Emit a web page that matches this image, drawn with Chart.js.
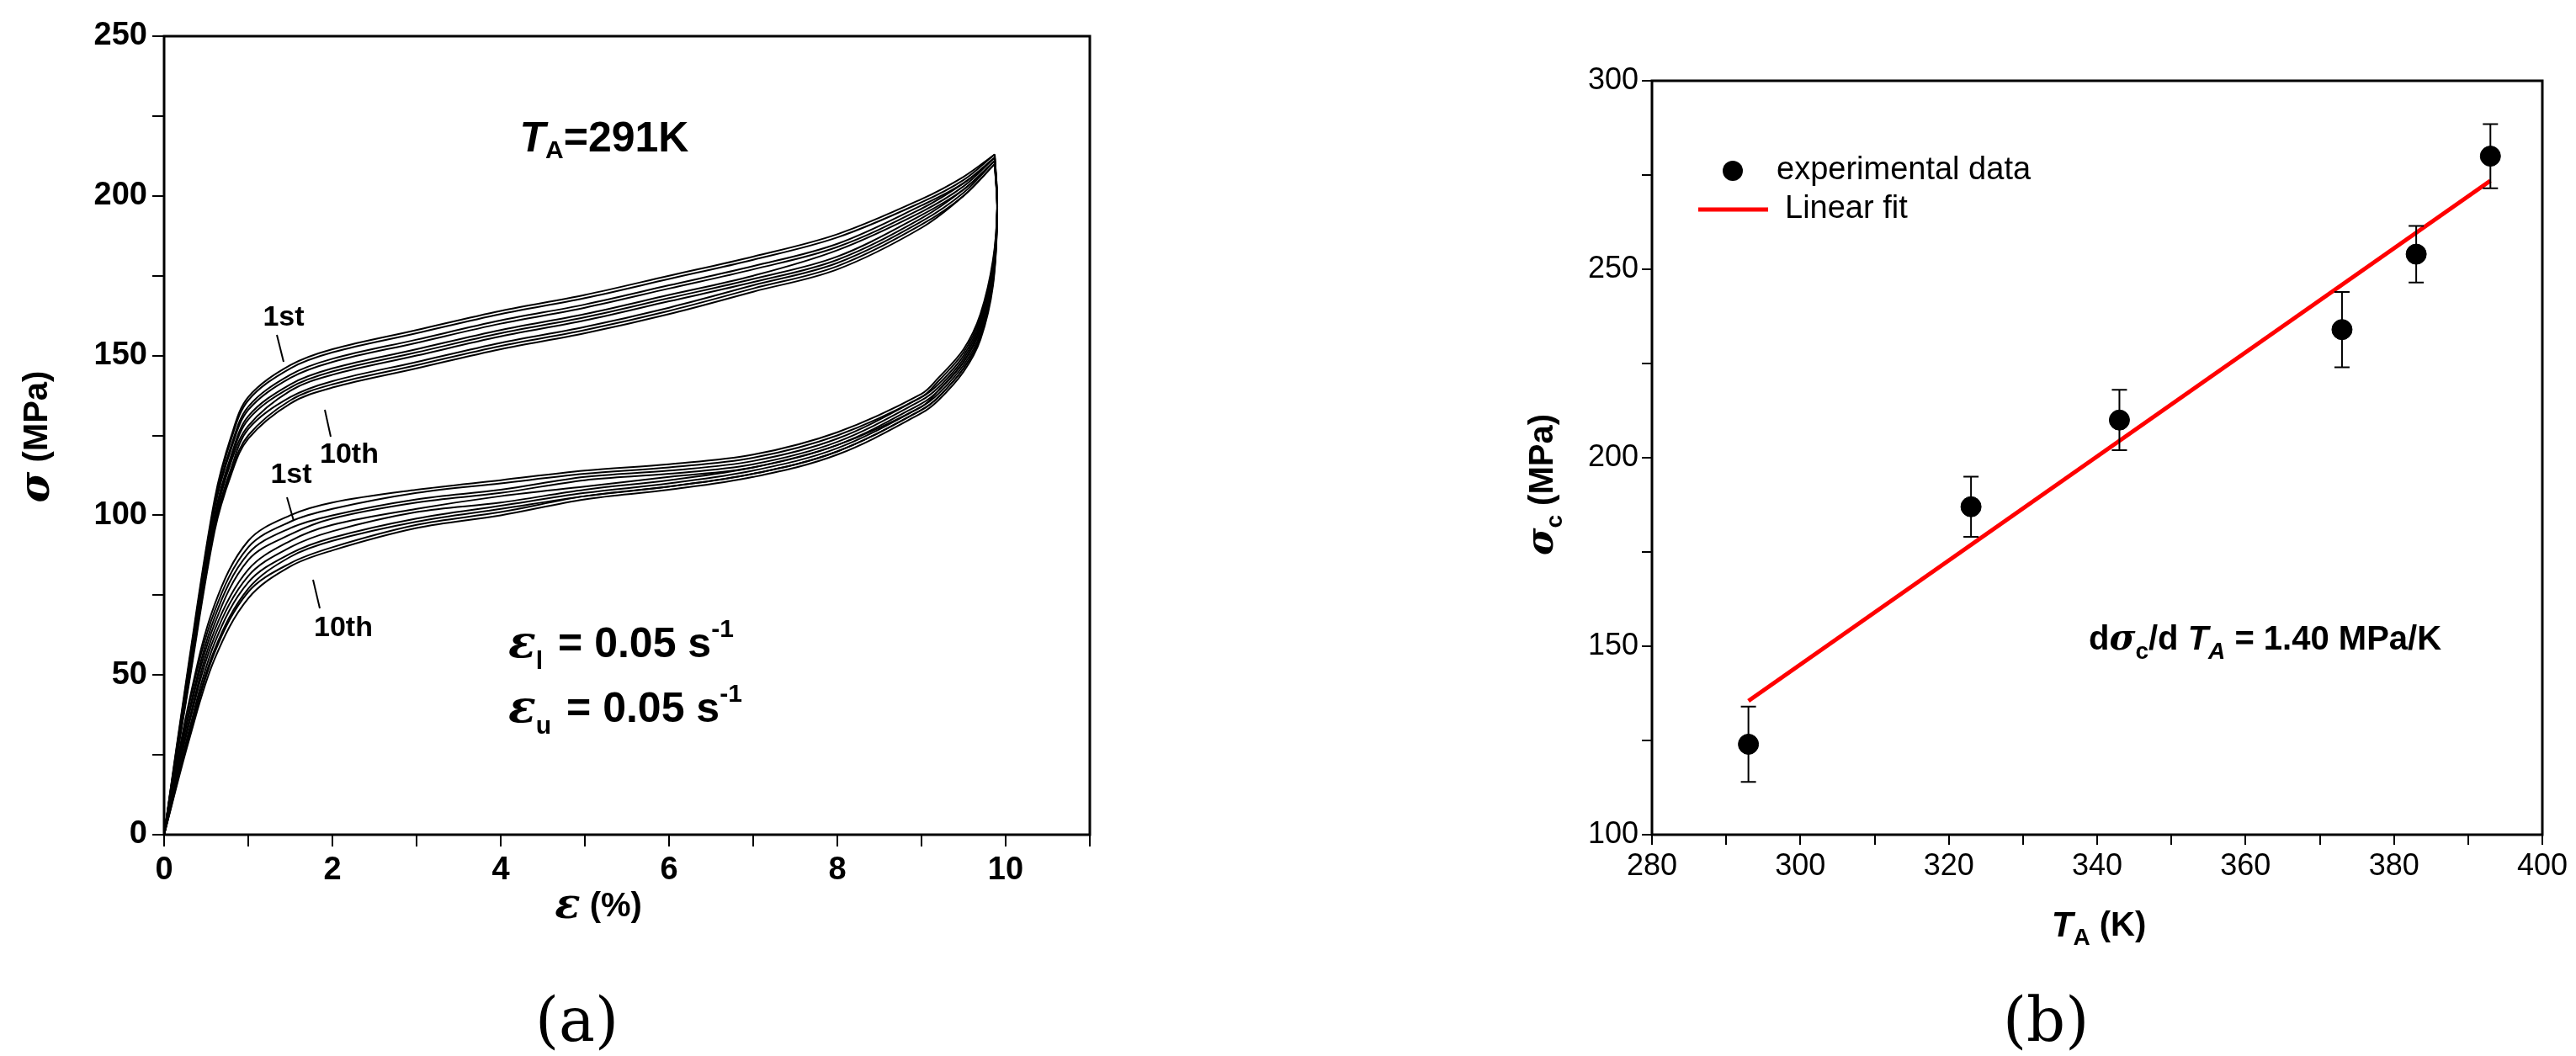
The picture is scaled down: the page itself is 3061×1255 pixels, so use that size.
<!DOCTYPE html>
<html><head><meta charset="utf-8">
<script src="https://cdn.jsdelivr.net/npm/chart.js@4"></script>
<style>
body{margin:0;width:3061px;height:1255px;background:#fff;position:relative;overflow:hidden}
.w{position:absolute;top:0;height:1140px}
#ta{left:0;width:1380px}#tb{left:1750px;width:1311px}
.lab{position:absolute;font-family:"DejaVu Serif",serif;font-size:72px;top:1170px}
</style></head><body>
<div class="w" id="ta"><canvas id="ca"></canvas></div>
<div class="w" id="tb"><canvas id="cb"></canvas></div>
<div class="lab" style="left:636px">(a)</div>
<div class="lab" style="left:2380px">(b)</div>
<script>
// ---- Panel (a) data ----
const loadStrain = [0,0.3,0.6,0.8,1.0,1.5,2,3,4,5,6,7,8,9,9.5,9.87];
const loadStress = [
 [0,55,105,125,137,147,152,158,164,169,175,181,188,199,206,213],
 [0,54,104,124,136,146,151,157,163,168,174,180,187,198,205,213],
 [0,53,103,122,134,144,149,155,161,166,172,178,185,197,204,212],
 [0,52,102,121,133,143,148,154,160,165,171,177,184,196,204,212],
 [0,51,100,119,131,141,146,152,158,163,169,175,183,195,203,212],
 [0,51,99,118,130,140,145,151,157,162,168,174,181,194,202,211],
 [0,50,98,117,128,139,144,150,156,161,167,173,180,193,202,211],
 [0,49,97,115,127,137,142,148,154,159,165,172,179,192,201,211],
 [0,49,96,114,125,136,141,147,153,158,164,171,178,191,200,210],
 [0,48,95,113,124,135,140,146,152,157,163,170,177,190,200,210]
];
const unloadStrain = [9.87,9.9,9.85,9.7,9.5,9.2,9,8,7,6,5,4,3,2,1.5,1,0.6,0.3,0];
const unloadStress = [
 [213,197,180,163,152,143,138,126,119,116,114,111,108,104,100,92,72,42,0],
 [213,197,179,162,151,142,137,125,118,115,113,110,107,102,98,90,70,41,0],
 [212,196,178,161,150,141,137,124,117,114,112,108,105,100,96,88,68,39,0],
 [212,196,177,160,149,140,136,123,116,113,111,107,104,99,94,86,66,38,0],
 [212,196,176,159,148,139,135,122,115,112,109,106,102,97,92,83,64,36,0],
 [211,196,176,158,148,139,134,122,115,111,108,104,101,95,90,81,62,35,0],
 [211,195,175,157,147,138,134,121,114,110,107,103,99,93,88,79,60,33,0],
 [211,195,174,156,146,137,133,120,113,109,106,102,98,92,87,77,58,32,0],
 [210,195,173,156,146,137,133,120,113,109,106,101,97,90,85,76,57,31,0],
 [210,195,172,155,145,136,132,119,112,108,105,100,96,89,84,74,55,30,0]
];
// ---- Panel (b) data ----
const tempK = [293,323,343,373,383,393];
const sigmaC = [124,187,210,234,254,280];
const sigmaErr = [10,8,8,10,7.5,8.5];
const fitX = [293,393];
const fitY = [135.5,273.5];

const boxPlugin = {id:'box',afterDraw(c){const a=c.chartArea,x=c.ctx;x.save();x.strokeStyle='#000';x.lineWidth=3;x.strokeRect(a.left,a.top,a.right-a.left,a.bottom-a.top);x.restore();}};
function txt(ctx,parts,x,y,rot){
  ctx.save();ctx.translate(x,y);if(rot)ctx.rotate(rot);
  let w=0;parts.forEach(p=>{ctx.font=p[1];w+=ctx.measureText(p[0]).width;});
  let cx=-w/2;ctx.fillStyle='#000';ctx.textBaseline='middle';ctx.textAlign='left';
  parts.forEach(p=>{ctx.font=p[1];ctx.fillText(p[0],cx,p[2]||0);cx+=ctx.measureText(p[0]).width;});
  ctx.restore();
}
function fixAxis(size,isY){return function(s){if(isY)s.width=size;else s.height=size;};}
const B='bold 40px "Liberation Sans",Arial';

const dsA=[];
for(let i=0;i<10;i++){
  dsA.push({data:loadStrain.map((e,j)=>({x:e,y:loadStress[i][j]}))});
  dsA.push({data:unloadStrain.map((e,j)=>({x:e,y:unloadStress[i][j]}))});
}
dsA.forEach(d=>Object.assign(d,{borderColor:'#000',borderWidth:2,pointRadius:0,tension:0.35,fill:false}));

const annA={id:'annA',afterDraw(c){const x=c.ctx;
  txt(x,[['T','italic bold 50px "Liberation Sans"'],['A','bold 30px "Liberation Sans"',14],['=291K','bold 50px "Liberation Sans"']],718,166);
  x.save();x.fillStyle='#000';x.textBaseline='middle';x.textAlign='center';
  x.font='bold 34px "Liberation Sans"';
  x.fillText('1st',337,378);x.fillText('10th',415,541);x.fillText('1st',346,565);x.fillText('10th',408,747);
  x.strokeStyle='#000';x.lineWidth=2;x.beginPath();
  [[329,398,337,430],[386,487,393,519],[341,591,349,619],[372,689,380,723]].forEach(l=>{x.moveTo(l[0],l[1]);x.lineTo(l[2],l[3]);});x.stroke();
  const f='bold 50px "Liberation Sans"';
  x.textAlign='left';
  [['l',767],['u',844]].forEach(r=>{let X=604;x.font='italic bold 54px "DejaVu Serif"';x.fillText('ε',X,r[1]);X+=x.measureText('ε').width;
    x.font='bold 30px "Liberation Sans"';x.fillText(r[0],X,r[1]+20);X+=x.measureText(r[0]).width+4;
    x.font=f;x.fillText(' = 0.05 s',X,r[1]);X+=x.measureText(' = 0.05 s').width;
    x.font='bold 30px "Liberation Sans"';x.fillText('-1',X,r[1]-18);});
  x.restore();
  txt(x,[['σ','italic bold 50px "DejaVu Serif"'],[' (MPa)',B]],45,519,-Math.PI/2);
  txt(x,[['ε','italic bold 50px "DejaVu Serif"'],[' (%)',B]],711,1078);
}};

new Chart(document.getElementById('ca'),{type:'line',data:{datasets:dsA},
 options:{responsive:true,maintainAspectRatio:false,animation:false,events:[],
  layout:{padding:{top:43,right:85}},
  plugins:{legend:{display:false},tooltip:{enabled:false}},
  scales:{
   x:{type:'linear',min:0,max:11,afterFit:fixAxis(148,false),border:{display:false},
      grid:{drawOnChartArea:false,tickLength:14,color:'#000',lineWidth:2},
      ticks:{stepSize:1,autoSkip:false,maxRotation:0,color:'#000',font:{family:'"Liberation Sans"',weight:'bold',size:38},padding:6,callback:v=>(v%2===0&&v<=10)?v:''}},
   y:{type:'linear',min:0,max:250,afterFit:fixAxis(195,true),border:{display:false},
      grid:{drawOnChartArea:false,tickLength:14,color:'#000',lineWidth:2},
      ticks:{stepSize:25,autoSkip:false,color:'#000',font:{family:'"Liberation Sans"',weight:'bold',size:38},padding:6,callback:v=>v%50===0?v:''}}
  }},plugins:[boxPlugin,annA]});

const errPlugin={id:'err',afterDatasetsDraw(c){const x=c.ctx,sx=c.scales.x,sy=c.scales.y;x.save();x.strokeStyle='#000';x.lineWidth=2;
  tempK.forEach((t,i)=>{const px=sx.getPixelForValue(t),p1=sy.getPixelForValue(sigmaC[i]-sigmaErr[i]),p2=sy.getPixelForValue(sigmaC[i]+sigmaErr[i]);
   x.beginPath();x.moveTo(px,p1);x.lineTo(px,p2);x.moveTo(px-9,p1);x.lineTo(px+9,p1);x.moveTo(px-9,p2);x.lineTo(px+9,p2);x.stroke();});
  x.restore();}};
const annB={id:'annB',afterDraw(c){const x=c.ctx;const L=1750;
  x.save();x.fillStyle='#000';x.beginPath();x.arc(2059-L,203,12,0,7);x.fill();
  x.strokeStyle='#f00';x.lineWidth=5;x.beginPath();x.moveTo(2018-L,249);x.lineTo(2101-L,249);x.stroke();
  x.font='38px "Liberation Sans"';x.textBaseline='middle';x.textAlign='left';x.fillText('experimental data',2111-L,203);x.fillText('Linear fit',2121-L,249);x.restore();
  x.save();x.textBaseline='middle';x.textAlign='left';x.fillStyle='#000';let cx=2482-L,y=761;
  const seg=(t,f,dy)=>{x.font=f;x.fillText(t,cx,y+(dy||0));cx+=x.measureText(t).width;};
  seg('d',B);seg('σ','italic bold 42px "DejaVu Serif"');seg('c','bold 28px "Liberation Sans"',14);seg('/d ',B);seg('T','italic bold 40px "Liberation Sans"');seg('A','italic bold 28px "Liberation Sans"',14);seg(' = 1.40 MPa/K',B);
  x.restore();
  txt(x,[['σ','italic bold 44px "DejaVu Serif"'],['c','bold 28px "Liberation Sans"',14],[' (MPa)',B]],1834-L,576,-Math.PI/2);
  txt(x,[['T','italic bold 42px "Liberation Sans"'],['A','bold 28px "Liberation Sans"',14],[' (K)',B]],2494-L,1101);
}};
new Chart(document.getElementById('cb'),{type:'scatter',
 data:{datasets:[
  {data:tempK.map((t,i)=>({x:t,y:sigmaC[i]})),backgroundColor:'#000',borderColor:'#000',pointRadius:12},
  {type:'line',data:fitX.map((t,i)=>({x:t,y:fitY[i]})),borderColor:'#f00',borderWidth:5,pointRadius:0}]},
 options:{responsive:true,maintainAspectRatio:false,animation:false,events:[],
  layout:{padding:{top:96,right:40}},
  plugins:{legend:{display:false},tooltip:{enabled:false}},
  scales:{
   x:{type:'linear',min:280,max:400,afterFit:fixAxis(148,false),border:{display:false},
      grid:{drawOnChartArea:false,tickLength:12,color:'#000',lineWidth:2},
      ticks:{stepSize:10,autoSkip:false,maxRotation:0,color:'#000',font:{family:'"Liberation Sans"',size:36},padding:4,callback:v=>v%20===0?v:''}},
   y:{type:'linear',min:100,max:300,afterFit:fixAxis(213,true),border:{display:false},
      grid:{drawOnChartArea:false,tickLength:12,color:'#000',lineWidth:2},
      ticks:{stepSize:25,autoSkip:false,color:'#000',font:{family:'"Liberation Sans"',size:36},padding:4,callback:v=>v%50===0?v:''}}
  }},plugins:[boxPlugin,errPlugin,annB]});
</script></body></html>
